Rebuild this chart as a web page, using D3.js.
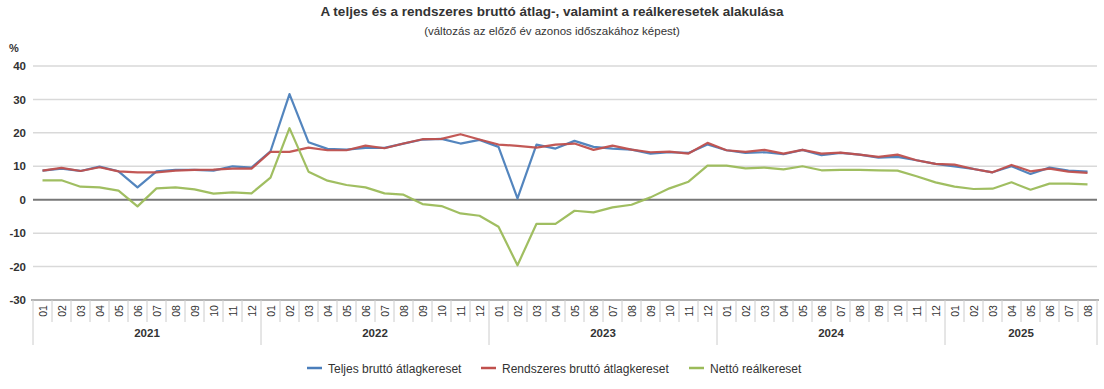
<!DOCTYPE html>
<html>
<head>
<meta charset="utf-8">
<script src="https://cdn.jsdelivr.net/npm/d3@7"></script>
<style>
  body { margin: 0; background: #fff; }
  svg { display: block; font-family: "Liberation Sans", Arial, sans-serif; }
</style>
</head>
<body>
<svg id="chart" width="1104" height="389"></svg>
<script>
const years = ["2021", "2022", "2023", "2024", "2025"];
const monthsPerYear = [12, 12, 12, 12, 8];
const monthLabels = ["01","02","03","04","05","06","07","08","09","10","11","12"];

const seriesNames = ["Teljes bruttó átlagkereset", "Rendszeres bruttó átlagkereset", "Nettó reálkereset"];
const seriesColors = ["#4a7ebb", "#c0504d", "#9bbb59"];

const teljes = [8.7, 9.3, 8.6, 9.9, 8.5, 3.7, 8.5, 8.9, 8.9, 8.7, 10.0, 9.6,
  14.5, 31.6, 17.2, 15.2, 15.0, 15.5, 15.5, 16.8, 18.0, 18.2, 16.8, 17.9,
  15.8, 0.4, 16.5, 15.3, 17.6, 15.8, 15.3, 15.0, 13.8, 14.2, 14.0, 16.5,
  14.8, 14.0, 14.2, 13.6, 14.9, 13.3, 14.0, 13.5, 12.6, 12.8, 11.8, 10.7,
  10.0, 9.2, 8.2, 10.0, 7.7, 9.6, 8.7, 8.4];
const rendszeres = [8.7, 9.5, 8.6, 9.7, 8.5, 8.2, 8.2, 8.7, 8.9, 9.0, 9.3, 9.3,
  14.3, 14.3, 15.6, 14.8, 14.8, 16.2, 15.4, 16.8, 18.1, 18.2, 19.6, 18.0,
  16.5, 16.1, 15.6, 16.5, 16.8, 14.9, 16.2, 15.0, 14.2, 14.4, 13.8, 17.0,
  14.8, 14.3, 14.9, 13.8, 14.9, 13.8, 14.1, 13.5, 12.8, 13.5, 11.8, 10.7,
  10.5, 9.2, 8.2, 10.4, 8.5, 9.3, 8.4, 8.0];
const netto = [5.8, 5.8, 3.9, 3.7, 2.7, -2.0, 3.4, 3.7, 3.1, 1.8, 2.2, 1.9,
  6.6, 21.4, 8.4, 5.7, 4.4, 3.7, 1.9, 1.5, -1.3, -1.9, -4.1, -4.8,
  -8.1, -19.6, -7.2, -7.2, -3.3, -3.8, -2.3, -1.5, 0.7, 3.4, 5.4, 10.2,
  10.2, 9.4, 9.6, 9.1, 10.0, 8.8, 8.9, 8.9, 8.8, 8.7, 7.0, 5.2,
  3.9, 3.2, 3.3, 5.2, 3.0, 4.8, 4.8, 4.6];

const yTicks = [40, 30, 20, 10, 0, -10, -20, -30];

// build categories
const categories = [];
years.forEach((yr, yi) => {
  for (let m = 0; m < monthsPerYear[yi]; m++) categories.push({ key: yr + "-" + monthLabels[m], year: yr, month: monthLabels[m] });
});

const svg = d3.select("#chart");
const plotLeft = 33, plotRight = 1097, plotTop = 66, plotBottom = 300;

const x = d3.scaleBand().domain(categories.map(d => d.key)).range([plotLeft, plotRight]).padding(0);
const y = d3.scaleLinear().domain([-30, 40]).range([plotBottom, plotTop]);

const textColor = "#333";

// title
svg.append("text").attr("x", 552).attr("y", 16).attr("text-anchor", "middle")
  .attr("font-size", 13.5).attr("font-weight", "bold").attr("fill", textColor)
  .text("A teljes és a rendszeres bruttó átlag-, valamint a reálkeresetek alakulása");
svg.append("text").attr("x", 552).attr("y", 35).attr("text-anchor", "middle")
  .attr("font-size", 11.5).attr("fill", textColor)
  .text("(változás az előző év azonos időszakához képest)");
svg.append("text").attr("x", 9).attr("y", 52)
  .attr("font-size", 11).attr("font-weight", "bold").attr("fill", textColor).text("%");

// grid
const grid = svg.append("g");
grid.selectAll("line").data(yTicks.filter(t => t !== 0 && t !== -30)).join("line")
  .attr("x1", plotLeft).attr("x2", plotRight)
  .attr("y1", d => y(d)).attr("y2", d => y(d))
  .attr("stroke", "#d9d9d9").attr("stroke-width", 1.5);

// y labels
const yAxis = d3.axisLeft(y).tickValues(yTicks).tickSize(0).tickPadding(7).tickFormat(d => String(d));
const yg = svg.append("g").attr("transform", `translate(${plotLeft},0)`).call(yAxis);
yg.select(".domain").remove();
yg.selectAll("text").attr("font-size", 11.5).attr("font-weight", "bold").attr("fill", textColor)
  .attr("font-family", "Liberation Sans, Arial, sans-serif");

// zero line
svg.append("line").attr("x1", plotLeft).attr("x2", plotRight).attr("y1", y(0)).attr("y2", y(0))
  .attr("stroke", "#777").attr("stroke-width", 2);

// bottom axis line
svg.append("line").attr("x1", plotLeft - 2).attr("x2", plotRight + 2).attr("y1", y(-30)).attr("y2", y(-30))
  .attr("stroke", "#999").attr("stroke-width", 1.5);

// month separators
const bw = x.bandwidth();
const sepG = svg.append("g");
categories.forEach((c) => {
  const xs = x(c.key);
  const isYearStart = c.month === "01";
  sepG.append("line").attr("x1", xs).attr("x2", xs)
    .attr("y1", plotBottom).attr("y2", isYearStart ? 345 : 322)
    .attr("stroke", "#ccc").attr("stroke-width", 1);
});
const lastX = x(categories[categories.length - 1].key) + bw;
sepG.append("line").attr("x1", lastX).attr("x2", lastX).attr("y1", plotBottom).attr("y2", 345)
  .attr("stroke", "#ccc").attr("stroke-width", 1);

// month labels
svg.append("g").selectAll("text").data(categories).join("text")
  .attr("transform", d => `translate(${x(d.key) + bw / 2 + 4},311) rotate(-90)`)
  .attr("text-anchor", "middle").attr("font-size", 10.5).attr("fill", textColor)
  .text(d => d.month);

// year labels
years.forEach((yr) => {
  const cs = categories.filter(c => c.year === yr);
  const x0 = x(cs[0].key), x1 = x(cs[cs.length - 1].key) + bw;
  svg.append("text").attr("x", (x0 + x1) / 2).attr("y", 337).attr("text-anchor", "middle")
    .attr("font-size", 11.5).attr("font-weight", "bold").attr("fill", textColor).text(yr);
});

// lines
const allSeries = [teljes, rendszeres, netto];
const line = d3.line().x((d, i) => x(categories[i].key) + bw / 2).y(d => y(d));
allSeries.forEach((s, si) => {
  svg.append("path").datum(s).attr("d", line).attr("fill", "none")
    .attr("stroke", seriesColors[si]).attr("stroke-width", 2.2).attr("stroke-linejoin", "round")
    .attr("opacity", 0.95);
});

// legend
const legendX = [307, 481, 689];
seriesNames.forEach((n, i) => {
  const g = svg.append("g").attr("transform", `translate(${legendX[i]},368)`);
  g.append("line").attr("x1", 0).attr("x2", 15).attr("y1", 0).attr("y2", 0)
    .attr("stroke", seriesColors[i]).attr("stroke-width", 2.5);
  g.append("text").attr("x", 21).attr("y", 4.5).attr("font-size", 12).attr("fill", textColor).text(n);
});
</script>
</body>
</html>
